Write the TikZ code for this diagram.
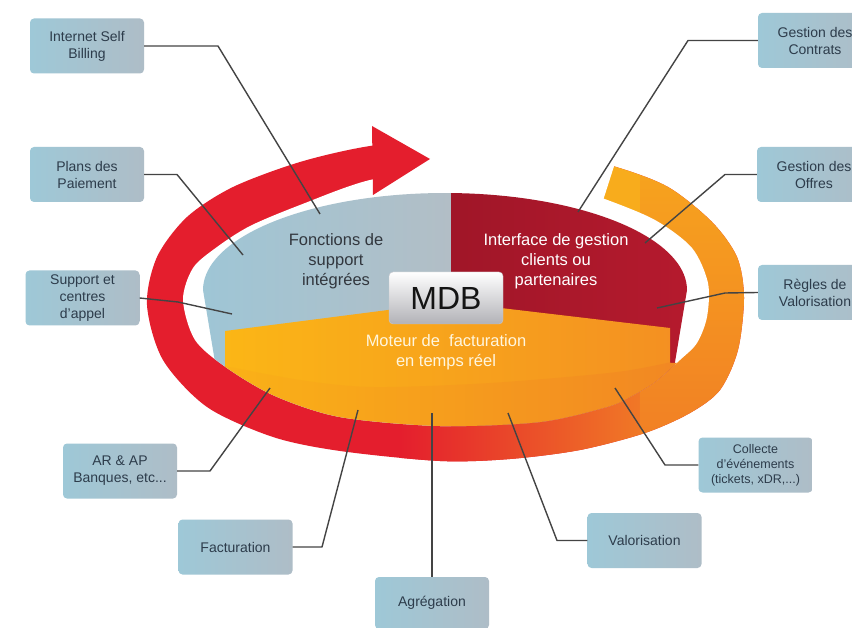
\documentclass[tikz,border=0pt]{standalone}
\usepackage{fontspec}
\setmainfont{Liberation Sans}
\definecolor{ringred}{RGB}{228,30,45}
\definecolor{ringorange}{RGB}{240,120,38}
\definecolor{ringyellow}{RGB}{248,172,28}
\definecolor{pieblueL}{RGB}{158,198,214}
\definecolor{pieblueR}{RGB}{178,190,198}
\definecolor{pieredL}{RGB}{160,22,40}
\definecolor{pieredR}{RGB}{182,26,46}
\definecolor{orangeL}{RGB}{251,182,22}
\definecolor{orangeR}{RGB}{243,140,35}
\definecolor{wallL}{RGB}{250,172,26}
\definecolor{wallR}{RGB}{238,112,40}
\definecolor{boxL}{RGB}{158,200,215}
\definecolor{boxR}{RGB}{174,189,199}
\definecolor{boxtext}{RGB}{45,60,75}
\definecolor{linegray}{RGB}{68,68,68}
\definecolor{fonctext}{RGB}{50,55,62}
\definecolor{motext}{RGB}{255,246,222}
\begin{document}
\begin{tikzpicture}[x=1pt,y=-1pt,
  lbl/.style={rounded corners=4pt, left color=boxL, right color=boxR, text=boxtext,
    align=center, minimum width=114pt, minimum height=55pt, inner sep=2pt,
    font=\fontsize{14}{17}\selectfont},
  smalllbl/.style={lbl, font=\fontsize{12.5}{15}\selectfont},
  pietext/.style={align=center, font=\fontsize{16.5}{20}\selectfont},
  conn/.style={draw=linegray, line width=1.4pt, line join=round}]
\useasboundingbox (0,0) rectangle (852,628);
\clip (0,0) rectangle (852,628);
\fill[white] (0,0) rectangle (852,628);

% ---- ring ----
\begin{scope}
\clip plot[smooth cycle] coordinates {(147,305) (157,257) (187,217) (233,187) (300,162) (370,146) (450,139) (530,145) (613,166) (668,187) (712,222) (737,257) (744,297) (738,350) (720,390) (690,413) (645,433) (580,450) (510,459) (440,461) (340,451) (273,437) (207,407) (163,360)};
\fill[ringred] (100,100) rectangle (800,500);
\shade[left color=ringred, right color=ringorange] (400,300) rectangle (640,500);
\fill[ringyellow] (560,100) rectangle (640,300);
\shade[top color=ringyellow, middle color=ringyellow, bottom color=ringorange] (640,100) rectangle (800,500);
\end{scope}
\fill[white] plot[smooth cycle] coordinates {(183,300) (193,268) (217,247) (250,226) (300,205) (370,180) (450,170) (530,174) (602,198) (655,220) (692,248) (708,283) (707,317) (697,343) (680,360) (655,382) (630,397) (607,407) (540,422) (440,426) (340,417) (275,396) (227,368) (195,340)};
\fill[white] (374,110) -- (632,110) -- (600,210) -- (450,196) -- (374,196) -- cycle;
\fill[ringred] (372,126) -- (430,159) -- (373,195) -- cycle;

% ---- pie ----
\begin{scope}
\clip plot[smooth cycle] coordinates {(183,300) (193,268) (217,247) (250,226) (300,205) (370,180) (450,170) (530,174) (602,198) (655,220) (692,248) (708,283) (707,317) (697,343) (680,360) (655,382) (630,397) (607,407) (540,422) (440,426) (340,417) (275,396) (227,368) (195,340)};
 \begin{scope}
 \clip plot[domain=0:180, samples=80] ({445-242*cos(\x)},{290-97*sin(\x)})
   -- plot[domain=0:180, samples=80] ({445+230*cos(\x)},{362+90*sin(\x)}) -- cycle;
 \shade[left color=pieblueL, right color=pieblueR] (195,180) rectangle (451,470);
 \shade[left color=pieredL, right color=pieredR] (451,180) rectangle (700,470);
 \end{scope}
 \begin{scope}
 \clip (225,331) -- (450,302) -- (670,328) -- (670,363) -- (760,363) -- (760,480) -- (225,480) -- cycle;
 \shade[left color=orangeL, right color=orangeR] (225,290) rectangle (720,480);
 \shade[left color=wallL, right color=wallR, opacity=0.35]
   plot[smooth] coordinates {(215,364) (300,380) (373,387) (490,383) (617,372) (680,360)}
   -- (760,360) -- (760,480) -- (215,480) -- cycle;
 \end{scope}
\end{scope}

% ---- pie labels ----
\node[pietext, text=fonctext] (fsi) at (336,261) {Fonctions de\\support\\intégrées};
\node[pietext, text=white] (igc) at (556,261) {Interface de gestion\\clients ou\\partenaires};
\node[pietext, text=motext] (mfr) at (446,352) {Moteur de\ \ facturation\\en temps réel};

% ---- connector ends ----
\coordinate (e1) at (320,214);
\coordinate (e2) at (578,212);
\coordinate (e3) at (243,255);
\coordinate (e4) at (232,314);
\coordinate (e5) at (645,243);
\coordinate (e6) at (657,308);
\coordinate (e7) at (615,388);
\coordinate (e8) at (508,413);
\coordinate (e9) at (432,413);
\coordinate (e10) at (358,410);
\coordinate (e11) at (270,388);

% ---- label boxes ----
\node[lbl] (isb) at (87,46) {Internet Self\\Billing};
\node[lbl] (gdc) at (815,40.5) {Gestion des\\Contrats};
\node[lbl] (pdp) at (87,174.5) {Plans des\\Paiement};
\node[lbl] (sec) at (82.5,298) {Support et\\centres\\d'appel};
\node[lbl] (gdo) at (814,174.5) {Gestion des\\Offres};
\node[lbl] (rdv) at (815,292.5) {Règles de\\Valorisation};
\node[smalllbl] (col) at (755.5,465) {Collecte\\d'événements\\(tickets, xDR,...)};
\node[lbl] (val) at (644.5,540.5) {Valorisation};
\node[lbl, minimum height=52pt] (agr) at (432,603) {Agrégation};
\node[lbl] (fac) at (235.5,547) {Facturation};
\node[lbl] (arap) at (120,471) {AR \& AP\\Banques, etc...};

% ---- connectors ----
\draw[conn] (isb.east) -- (218,46) -- (e1);
\draw[conn] (gdc.west) -- (688,40.5) -- (e2);
\draw[conn] (pdp.east) -- (177,174.5) -- (e3);
\draw[conn] (sec.east) -- (178,302) -- (e4);
\draw[conn] (gdo.west) -- (725,174.5) -- (e5);
\draw[conn] (rdv.west) -- (725,293) -- (e6);
\draw[conn] (col.west) -- (665,465) -- (e7);
\draw[conn] (val.west) -- (557,540.5) -- (e8);
\draw[conn] (agr.north) -- (e9);
\draw[conn] (fac.east) -- (322,547) -- (e10);
\draw[conn] (arap.east) -- (210,471) -- (e11);

% ---- MDB ----
\node[rounded corners=4pt, top color=white, bottom color={rgb,255:red,178;green,178;blue,183},
  draw={rgb,255:red,200;green,200;blue,205}, minimum width=114pt, minimum height=52pt,
  font=\fontsize{32}{36}\selectfont, text={rgb,255:red,20;green,20;blue,20}] (mdb) at (446,298) {MDB};
\end{tikzpicture}
\end{document}
